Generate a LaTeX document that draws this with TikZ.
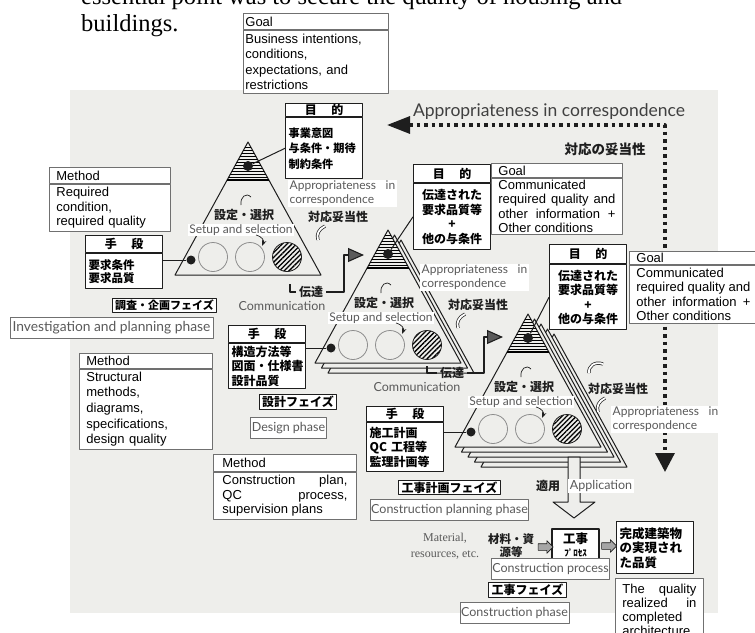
\documentclass[tikz,border=0pt]{standalone}
\usepackage{fontspec}
\setmainfont{Liberation Serif}
\newfontfamily\arialf{Liberation Sans}
\newfontfamily\gillf{Lato}
\newfontfamily\jpf{Noto Sans CJK JP}
\usetikzlibrary{positioning,arrows.meta,patterns.meta,shapes.arrows}
\definecolor{panel}{HTML}{EEEEEB}
\definecolor{ink}{HTML}{1E1E1E}
\definecolor{rule}{HTML}{707070}
\definecolor{soft}{HTML}{5A5A5A}
\hyphenpenalty=10000
\tikzset{
  enhead/.style={draw=rule, line width=0.8pt, fill=white, anchor=north west,
    inner xsep=7pt, inner ysep=0pt, align=left, text width=#1,
    font=\arialf\fontsize{13}{14.5}\selectfont},
  jphead/.style={draw=ink, line width=1.2pt, fill=white, anchor=north west,
    inner xsep=3pt, inner ysep=0pt, text width=71pt, align=center,
    font=\jpf\bfseries\fontsize{12}{14.5}\selectfont},
  phasejp/.style={draw=ink, line width=1.2pt, fill=white, inner xsep=3pt,
    inner ysep=1.5pt, font=\jpf\bfseries\fontsize{12}{13}\selectfont},
  phaseen/.style={draw=rule, line width=0.8pt, fill=white, inner sep=1pt,
    minimum height=21pt, text=soft, font=\gillf\fontsize{12.5}{14}\selectfont},
  whitelab/.style={fill=white, inner xsep=1.5pt, inner ysep=1pt, text=soft,
    align=left, font=\gillf\fontsize{12}{13.5}\selectfont},
  note/.style={text=soft, inner sep=0pt, font=\gillf\fontsize{12.5}{14}\selectfont},
  jplab/.style={text=ink, inner sep=0pt, font=\jpf\bfseries\fontsize{12}{14}\selectfont},
  sheet/.style={fill=panel, draw=ink, line width=1pt},
  dot/.style={circle, fill=ink, inner sep=0pt},
  ring/.style={circle, draw=rule!80, line width=0.8pt, minimum size=29pt, inner sep=0pt},
  hatch/.style={draw=ink, pattern={Lines[angle=45,distance=3.4pt,line width=1.3pt]}},
  link/.style={draw=ink, line width=1pt},
  pipe/.style={draw=ink, line width=1.1pt},
  crescent/.style={draw=ink, line width=0.7pt, double=white, double distance=1.8pt},
  flow/.style={single arrow, draw=ink, fill=gray!70, line width=0.6pt,
    minimum height=15pt, inner xsep=0pt, inner ysep=3pt, single arrow head extend=3pt},
}
\begin{document}
\begin{tikzpicture}[x=1pt, y=-1pt, line join=round, >=Stealth]
\useasboundingbox (0,0) rectangle (755,632);
\fill[panel] (70,90) rectangle (718,613);
% text of the page above the figure
\node[anchor=base west, inner sep=0pt, align=left,
  font=\fontsize{24.5}{27}\selectfont] (para) at (81,31)
  {essential point was to secure the quality of housing and\\buildings.};

% feedback loop
\coordinate (loopL) at (387,125);
\coordinate (loopC) at (665,125);
\coordinate (loopD) at (665,472);
\draw[ink, line width=3.2pt, dash pattern=on 3.5pt off 4pt,
  {Triangle[length=23pt,width=17pt]}-{Triangle[length=19pt,width=19pt]}]
  (loopL) -- (loopC) -- (loopD);
\node[text=ink!85, inner sep=0pt, font=\gillf\fontsize{17.5}{19}\selectfont] (loopen)
  at (549,112) {Appropriateness in correspondence};
\node[jplab, font=\jpf\bfseries\fontsize{13.5}{15}\selectfont] (loopjp)
  at (605,149) {対応の妥当性};

% English boxes
\node[enhead=141pt, inner xsep=2pt, minimum height=16pt] (goal1) at (243,13) {Goal};
\node[enhead=141pt, inner xsep=2pt, minimum height=63pt,
  below=0pt of goal1.south west, anchor=north west,
  font=\arialf\fontsize{13}{15.5}\selectfont] (goaltxt1)
  {Business intentions,\\conditions,\\expectations, and\\restrictions};
\node[enhead=117pt, minimum height=14pt] (goal2) at (491,163) {Goal};
\node[enhead=117pt, minimum height=56pt, align=justify,
  below=0pt of goal2.south west, anchor=north west] (goaltxt2)
  {Communicated required quality and other information + Other conditions};
\node[enhead=114pt, minimum height=13pt] (goal3) at (629,251) {Goal};
\node[enhead=114pt, minimum height=58pt, align=justify,
  below=0pt of goal3.south west, anchor=north west] (goaltxt3)
  {Communicated required quality and other information + Other conditions};
\node[enhead=107pt, minimum height=16pt] (method1) at (49,167) {Method};
\node[enhead=107pt, minimum height=47pt, below=0pt of method1.south west,
  anchor=north west] (methodtxt1) {Required\\condition,\\required quality};
\node[enhead=119pt, minimum height=15pt] (method2) at (79,353) {Method};
\node[enhead=119pt, minimum height=80pt, below=0pt of method2.south west,
  anchor=north west, font=\arialf\fontsize{13}{15.7}\selectfont] (methodtxt2)
  {Structural\\methods,\\diagrams,\\specifications,\\design quality};
\node[enhead=125pt, inner xsep=9pt, minimum height=17pt] (method3) at (213,454) {Method};
\node[enhead=125pt, inner xsep=9pt, minimum height=47pt, align=justify,
  below=0pt of method3.south west, anchor=north west] (methodtxt3)
  {Construction plan, QC process, supervision plans};
\node[enhead=74pt, minimum height=62pt, align=justify,
  font=\arialf\fontsize{13}{14}\selectfont] (quality) at (615,578)
  {The quality realized in completed architecture};

% Japanese boxes
\node[jphead, minimum height=13pt] (aim1) at (285,103) {目\hspace{1.2em}的};
\node[jphead, minimum height=61pt, align=left, below=0pt of aim1.south west,
  anchor=north west, font=\jpf\bfseries\fontsize{11.2}{15.5}\selectfont] (aimtxt1)
  {事業意図\\与条件・期待\\制約条件};
\node[jphead, minimum height=18pt] (aim2) at (413,164) {目\hspace{1.2em}的};
\node[jphead, minimum height=66pt, below=0pt of aim2.south west,
  anchor=north west] (aimtxt2) {伝達された\\要求品質等\\+\\他の与条件};
\node[jphead, minimum height=19pt] (aim3) at (549,244) {目\hspace{1.2em}的};
\node[jphead, minimum height=65pt, below=0pt of aim3.south west,
  anchor=north west] (aimtxt3) {伝達された\\要求品質等\\+\\他の与条件};
\node[jphead, minimum height=17pt] (means1) at (85,235) {手\hspace{1.2em}段};
\node[jphead, minimum height=35pt, align=left, below=0pt of means1.south west,
  anchor=north west, font=\jpf\bfseries\fontsize{11.5}{13.3}\selectfont] (meanstxt1)
  {要求条件\\要求品質};
\node[jphead, minimum height=17pt] (means2) at (228,325) {手\hspace{1.2em}段};
\node[jphead, minimum height=45pt, align=left, below=0pt of means2.south west,
  anchor=north west] (meanstxt2) {構造方法等\\図面・仕様書\\設計品質};
\node[jphead, minimum height=15pt] (means3) at (366,406) {手\hspace{1.2em}段};
\node[jphead, minimum height=49pt, align=left, below=0pt of means3.south west,
  anchor=north west] (meanstxt3) {施工計画\\QC 工程等\\監理計画等};

% phases
\node[phasejp, font=\jpf\bfseries\fontsize{11}{12}\selectfont] (stage1) at (164.5,305.5) {調査・企画フェイズ};
\node[phaseen, minimum width=203pt, font=\gillf\fontsize{13.8}{15}\selectfont] (stage1en)
  at (111.5,327.5) {Investigation and planning phase};
\node[phasejp] (stage2) at (298,402) {設計フェイズ};
\node[phaseen, minimum width=73pt] (stage2en) at (288.5,428) {Design phase};
\node[phasejp] (stage3) at (449.5,487.5) {工事計画フェイズ};
\node[phaseen, minimum width=157pt] (stage3en) at (449.5,510) {Construction planning phase};

% the three steps
\foreach \n/\ax/\ay/\k in {1/248/142/0, 2/388/230/2, 3/528/314/4}{
  \foreach \j in {4,3,2,1}{
    \ifnum\j>\k\else
      \filldraw[sheet] ({\ax+6.5*\j},{\ay+5*\j}) -- ++(73,133) -- ++(-146,0) -- cycle;
    \fi}
  \filldraw[sheet] (\ax,\ay) -- ++(73,133) -- ++(-146,0) -- cycle;
  \begin{scope}
    \clip (\ax,\ay) -- ++(20.9,38) -- ++(-41.8,0) -- cycle;
    \foreach \h in {5,8,...,38} \draw[line width=0.9pt] (\ax-25,\ay+\h) -- ++(50,0);
  \end{scope}
  \draw[line width=1.3pt] (\ax-20.9,\ay+38) -- ++(41.8,0);
  \node[dot, minimum size=10pt] (top\n) at (\ax,\ay+24) {};
  \node[dot, minimum size=9pt] (left\n) at (\ax-57,\ay+118) {};
  \node[ring] (pickA\n) at (\ax-35,\ay+115) {};
  \node[ring] (pickB\n) at (\ax+2,\ay+115) {};
  \node[ring, hatch] (pickC\n) at (\ax+39,\ay+115) {};
  \node[jplab] (sel\n) at (\ax-4,\ay+73) {設定・選択};
  \node[whitelab] (setup\n) at (\ax-7,\ay+88) {Setup and selection};
  \node[jplab] (fit\n) at (\ax+90,\ay+75) {対応妥当性};
  \draw[ink, line width=0.7pt] (\ax-7,\ay+63) .. controls (\ax-8,\ay+55) and (\ax-2,\ay+50) .. (\ax+3,\ay+55);
  \draw[ink, line width=0.7pt, ->] (\ax+8,\ay+93) .. controls (\ax+15,\ay+95) and (\ax+16,\ay+99) .. (\ax+14,\ay+104);
  \draw[crescent] (\ax+70,\ay+98) .. controls (\ax+68,\ay+92) and (\ax+71,\ay+87) .. (\ax+77,\ay+84);
  \draw[link] (top\n) -- (aimtxt\n.west);
  \draw[link] (left\n) -- (meanstxt\n.east |- left\n);
}
\draw[crescent] (589,373) .. controls (588,366) and (595,361) .. (603,364);

% appropriateness notes
\node[whitelab, anchor=north west] (fiten1) at (288,180) {Appropriateness\hspace{0.8em}in\\correspondence};
\node[whitelab, anchor=north west] (fiten2) at (420,264) {Appropriateness\hspace{0.8em}in\\correspondence};
\node[whitelab, anchor=north west] (fiten3) at (611,406) {Appropriateness\hspace{0.8em}in\\correspondence};

% communication
\coordinate (sendA) at (290,284);
\coordinate (riseA) at (344,255);
\coordinate (tipA) at (364,255);
\node[jplab, inner xsep=3pt] (passA) at (311,292) {伝達};
\draw[pipe] (sendA) |- (passA.west);
\draw[pipe, -{Triangle[length=16pt,width=14pt,fill=soft]}] (passA.east) -| (riseA) -- (tipA);
\node[note] (commA) at (282,306) {Communication};
\coordinate (sendB) at (427,366);
\coordinate (riseB) at (484,337);
\coordinate (tipB) at (503,337);
\node[jplab, inner xsep=3pt] (passB) at (452,373) {伝達};
\draw[pipe] (sendB) |- (passB.west);
\draw[pipe, -{Triangle[length=16pt,width=14pt,fill=soft]}] (passB.east) -| (riseB) -- (tipB);
\node[note] (commB) at (417,387) {Communication};

% application and construction
\filldraw[sheet] (568,457) -- (580,457) -- (580,502) -- (595,502) -- (574,518)
  -- (553,502) -- (568,502) -- cycle;
\node[jplab] (applyjp) at (548,486) {適用};
\node[whitelab, font=\gillf\fontsize{12.5}{14}\selectfont] (applyen) at (601,486) {Application};
\node[text=soft, align=center, inner sep=0pt, font=\fontsize{12}{16}\selectfont] (maten)
  at (445,546) {Material,\\resources, etc.};
\node[jplab, align=center, font=\jpf\bfseries\fontsize{11.5}{13}\selectfont] (matjp)
  at (511,546) {材料・資\\源等};
\node[draw=ink, line width=1.2pt, fill=white, minimum width=47pt, minimum height=31pt,
  inner sep=0pt, align=center, font=\jpf\bfseries\fontsize{12.5}{13}\selectfont] (work)
  at (575.5,544.5) {工事\\{\fontsize{9}{10}\selectfont ﾌﾟﾛｾｽ}};
\node[draw=ink, line width=1.4pt, fill=white, anchor=north west, text width=71pt,
  inner xsep=3pt, minimum height=52pt, align=left,
  font=\jpf\bfseries\fontsize{12.5}{14.5}\selectfont] (done) at (616,521)
  {完成建築物\\の実現され\\た品質};
\node[flow] (feed) at (544,547) {};
\node[flow] (yield) at (607.5,546) {};
\node[phaseen, minimum width=115pt] (worken) at (550.5,568.5) {Construction process};
\node[phasejp] (stage4) at (527.5,590) {工事フェイズ};
\node[phaseen, minimum width=107pt] (stage4en) at (514.5,613) {Construction phase};
\end{tikzpicture}
\end{document}
